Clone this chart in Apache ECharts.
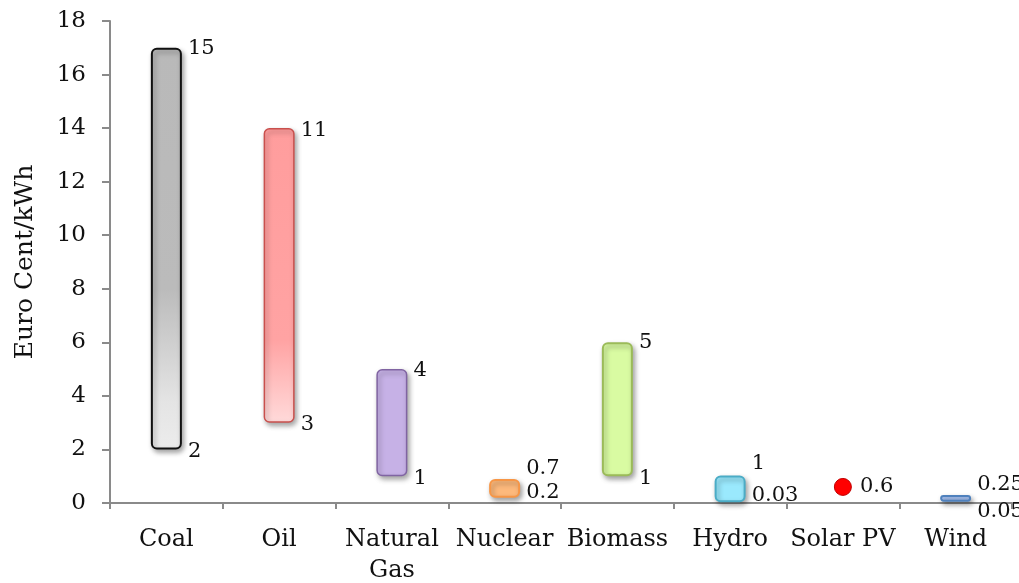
<!DOCTYPE html>
<html>
<head>
<meta charset="utf-8">
<title>Electricity generation cost ranges</title>
<script src="https://cdn.jsdelivr.net/npm/echarts@6/dist/echarts.min.js"></script>
<style>
  html, body { margin: 0; padding: 0; background: #ffffff; }
  #chart { width: 1019px; height: 583px; }
</style>
</head>
<body>
<div id="chart"></div>
<script>
// Technologies along the x axis
const categories = ['Coal', 'Oil', 'Natural\nGas', 'Nuclear', 'Biomass', 'Hydro', 'Solar PV', 'Wind'];
// Lower end of each cost range (Euro cent / kWh)
const rangeLow = [2, 3, 1, 0.2, 1, 0.03, '-', 0.05];
// Width of each range, stacked on top of the lower end
const rangeSpan = [15, 11, 4, 0.7, 5, 1, '-', 0.25];
// Single-valued estimate
const pointValue = ['-', '-', '-', '-', '-', '-', 0.6, '-'];
// Value axis ticks
const yMin = 0, yMax = 18, yStep = 2;

const FONT = 'DejaVu Serif';

// Fill / border per technology
const barStyles = [
  { color: { type: 'linear', x: 0, y: 0, x2: 0, y2: 1, colorStops: [
      { offset: 0, color: '#b9b9b9' }, { offset: 0.6, color: '#bbbbbb' },
      { offset: 0.88, color: '#e4e4e4' }, { offset: 1, color: '#ececec' }] },
    borderColor: '#111111', borderWidth: 2 },
  { color: { type: 'linear', x: 0, y: 0, x2: 0, y2: 1, colorStops: [
      { offset: 0, color: '#ff9d9d' }, { offset: 0.72, color: '#ffa3a3' },
      { offset: 1, color: '#ffdada' }] },
    borderColor: '#c9504d', borderWidth: 1.5 },
  { color: '#c6b1e6', borderColor: '#8064a2', borderWidth: 1.5 },
  { color: '#fdb97c', borderColor: '#f79646', borderWidth: 2 },
  { color: '#d9fba2', borderColor: '#9bbb59', borderWidth: 2 },
  { color: '#9ae9fd', borderColor: '#4bacc6', borderWidth: 2 },
  { color: 'transparent' },
  { color: '#a8c3f3', borderColor: '#4f81bd', borderWidth: 2 }
];

// Vertical nudges for the value labels
const lowLabelShift = [2, 2, 2, -5, 2, -7, 0, 10];
const highLabelShift = [1, 2, 1, -10, 0, -12, 0, -10];

const shadow = { shadowBlur: 5, shadowColor: 'rgba(0,0,0,0.35)', shadowOffsetX: 2, shadowOffsetY: 3 };

const labelBase = {
  show: true,
  position: ['100%', 0],
  align: 'left',
  verticalAlign: 'middle',
  fontFamily: FONT,
  fontSize: 21,
  color: '#111111',
  formatter: p => String(p.value)
};

const lowData = rangeLow.map((v, i) => ({
  value: v,
  label: Object.assign({}, labelBase, { offset: [6, lowLabelShift[i]] })
}));

const spanData = rangeSpan.map((v, i) => ({
  value: v,
  itemStyle: Object.assign({ borderRadius: 5 }, barStyles[i], v === '-' ? {} : shadow),
  label: Object.assign({}, labelBase, { offset: [6, highLabelShift[i]] })
}));

const chart = echarts.init(document.getElementById('chart'), null, { renderer: 'canvas' });

chart.setOption({
  backgroundColor: '#ffffff',
  animation: false,
  grid: { left: 110, right: 7, top: 21, bottom: 80, containLabel: false, outerBoundsMode: 'none' },
  xAxis: {
    type: 'category',
    data: categories,
    boundaryGap: true,
    axisLine: { show: true, lineStyle: { color: '#8a8a8a', width: 2 } },
    axisTick: { show: true, length: 6, lineStyle: { color: '#8a8a8a', width: 2 } },
    axisLabel: {
      interval: 0, margin: 21, fontFamily: FONT, fontSize: 24, color: '#111111', lineHeight: 31
    },
    splitLine: { show: false }
  },
  yAxis: {
    type: 'value',
    min: yMin, max: yMax, interval: yStep,
    name: 'Euro Cent/kWh',
    nameLocation: 'middle',
    nameGap: 72,
    nameRotate: 90,
    nameTextStyle: { fontFamily: FONT, fontSize: 25, color: '#111111' },
    axisLine: { show: true, lineStyle: { color: '#8a8a8a', width: 2 } },
    axisTick: { show: true, length: 8, lineStyle: { color: '#8a8a8a', width: 2 } },
    axisLabel: { margin: 24, fontFamily: FONT, fontSize: 23, color: '#111111' },
    splitLine: { show: false }
  },
  series: [
    {
      name: 'low',
      type: 'bar',
      stack: 'range',
      barWidth: 31,
      itemStyle: { color: 'transparent' },
      data: lowData,
      z: 3
    },
    {
      name: 'span',
      type: 'bar',
      stack: 'range',
      barWidth: 31,
      data: spanData,
      z: 2
    },
    {
      name: 'point',
      type: 'scatter',
      symbol: 'circle',
      symbolSize: 17,
      itemStyle: { color: '#ff0000', borderColor: '#c00000', borderWidth: 1, opacity: 1 },
      label: {
        show: true, position: 'right', distance: 8,
        fontFamily: FONT, fontSize: 21, color: '#111111', opacity: 1,
        formatter: p => String(p.value)
      },
      emphasis: { disabled: true },
      data: pointValue,
      z: 4
    }
  ]
});
</script>
</body>
</html>
